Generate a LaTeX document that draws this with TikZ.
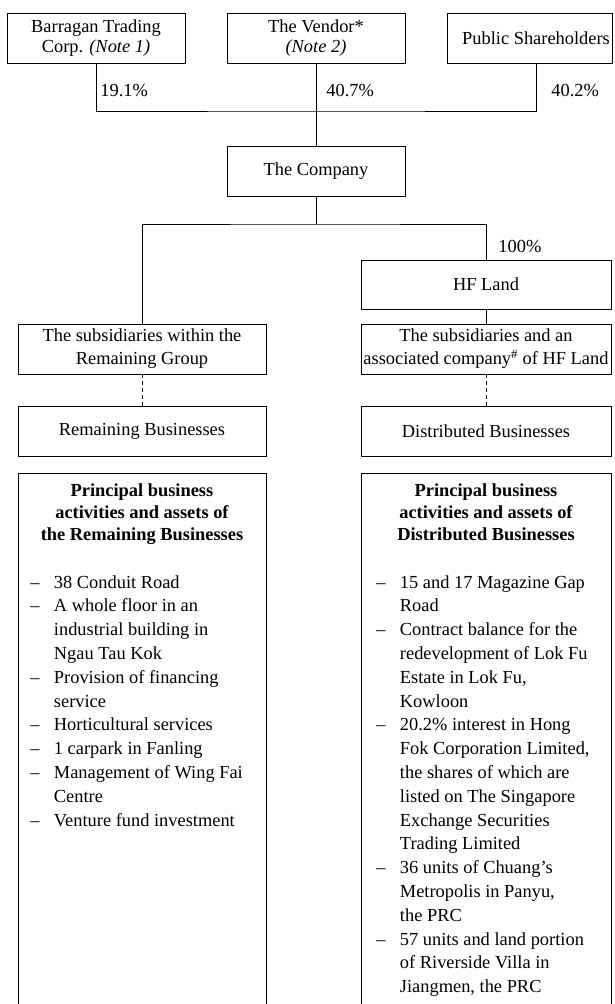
\documentclass[tikz,border=0pt]{standalone}
\usepackage{fontspec}
\setmainfont{Liberation Serif}
\begin{document}
\begin{tikzpicture}[x=1pt,y=-1pt, line width=0.9pt,
  box/.style={draw, minimum height=50pt, inner sep=1pt, align=center, font=\fontsize{18.4}{20}\selectfont},
  pct/.style={anchor=west, inner sep=0pt, font=\fontsize{18.4}{20}\selectfont},
  dashline/.style={dash pattern=on 4pt off 3pt},
  headtext/.style={anchor=base, inner sep=0pt, font=\fontsize{18.4}{22}\selectfont\bfseries},
  itemtext/.style={anchor=base west, inner sep=0pt, font=\fontsize{18.4}{23.8}\selectfont}]
\useasboundingbox (0,0) rectangle (614,1004);

% shareholders
\node[box, minimum width=178pt] (barr) at (96,38) {Barragan Trading\\Corp. \textit{(Note 1)}};
\node[box, minimum width=178pt] (vend) at (316,38) {The Vendor*\\\textit{(Note 2)}};
\node[box, draw=none, minimum width=150pt] (pub) at (536,38) {Public Shareholders};
\draw (447,13) rectangle (612,63);

\node[pct] (p1) at (100,91) {19.1\%};
\node[pct] (p2) at (326,91) {40.7\%};
\node[pct] (p3) at (551,91) {40.2\%};

\node[box, minimum width=178pt] (comp) at (316,171) {The Company};
\node[pct] (p4) at (498,246) {100\%};
\node[box, minimum width=250pt, minimum height=49pt] (hf) at (486,284.5) {HF Land};

\node[box, minimum width=248pt, font=\fontsize{18.4}{23}\selectfont] (lsub) at (142,349) {The subsidiaries within the\\Remaining Group};
\node[box, minimum width=250pt, font=\fontsize{18.4}{23}\selectfont] (rsub) at (486,349) {The subsidiaries and an\\associated company\textsuperscript{\#} of HF Land};

\node[box, minimum width=248pt] (lrem) at (142,431) {Remaining Businesses};
\node[box, minimum width=250pt] (rrem) at (486,431) {Distributed Businesses};

% connectors
\coordinate (j1) at (316,111);
\coordinate (j2) at (316,224);
\draw (barr.south) |- (j1) -| (pub.south);
\draw (vend.south) -- (comp.north);
\draw (comp.south) -- (j2);
\draw (lsub.north) |- (j2) -| (hf.north);
\draw (hf.south) -- (rsub.north);
\draw[dashline] (lsub.south) -- (lrem.north);
\draw[dashline] (rsub.south) -- (rrem.north);

% principal boxes (open at bottom)
\draw (18,1004) -- (18,473) -- (266,473) -- (266,1004);
\draw (361,1004) -- (361,473) -- (611,473) -- (611,1004);

\node[headtext] (lhead) at (142,496) {\begin{tabular}[t]{@{}c@{}}Principal business\\activities and assets of\\the Remaining Businesses\end{tabular}};
\node[headtext] (rhead) at (486,496) {\begin{tabular}[t]{@{}c@{}}Principal business\\activities and assets of\\Distributed Businesses\end{tabular}};

\node[itemtext] (litems) at (30,588) {\begin{tabular}[t]{@{}p{23.5pt}@{}l@{}}
–&38 Conduit Road\\
–&A whole floor in an\\
&industrial building in\\
&Ngau Tau Kok\\
–&Provision of financing\\
&service\\
–&Horticultural services\\
–&1 carpark in Fanling\\
–&Management of Wing Fai\\
&Centre\\
–&Venture fund investment
\end{tabular}};

\node[itemtext] (ritems) at (376,588) {\begin{tabular}[t]{@{}p{23.5pt}@{}l@{}}
–&15 and 17 Magazine Gap\\
&Road\\
–&Contract balance for the\\
&redevelopment of Lok Fu\\
&Estate in Lok Fu,\\
&Kowloon\\
–&20.2\% interest in Hong\\
&Fok Corporation Limited,\\
&the shares of which are\\
&listed on The Singapore\\
&Exchange Securities\\
&Trading Limited\\
–&36 units of Chuang’s\\
&Metropolis in Panyu,\\
&the PRC\\
–&57 units and land portion\\
&of Riverside Villa in\\
&Jiangmen, the PRC
\end{tabular}};
\end{tikzpicture}
\end{document}
